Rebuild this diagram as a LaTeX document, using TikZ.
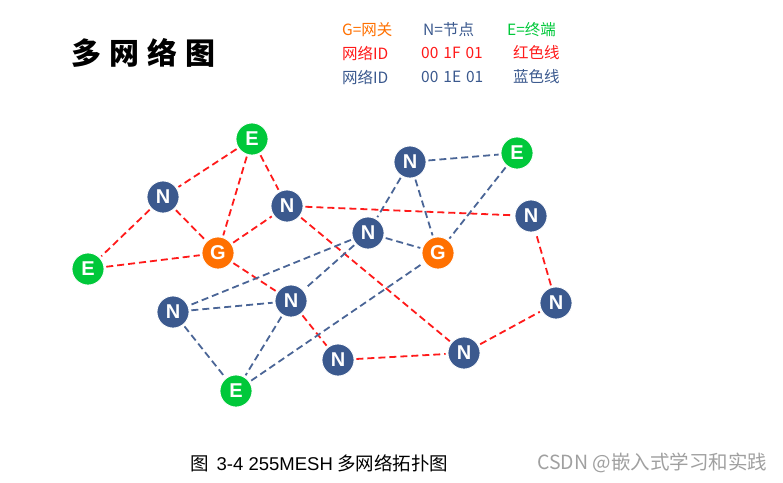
\documentclass[tikz,border=0pt]{standalone}
\usepackage{fontspec}
\newfontfamily\cjk{Noto Sans CJK SC}
\newfontfamily\lat{Liberation Sans}
\definecolor{nblue}{HTML}{3B598E}
\definecolor{lblue}{HTML}{4A6596}
\definecolor{gorange}{HTML}{FF7000}
\definecolor{egreen}{HTML}{00C83A}
\definecolor{lred}{HTML}{FF1A1A}
\definecolor{wm}{HTML}{A0A0A0}
\tikzset{
  nd/.style={circle, minimum size=32pt, inner sep=0pt, draw=white, line width=0.8pt,
             text=white, font=\lat\bfseries\fontsize{20}{20}\selectfont},
  nn/.style={nd, fill=nblue},
  gg/.style={nd, fill=gorange},
  ee/.style={nd, fill=egreen},
  rl/.style={draw=lred, line width=1.8pt, dash pattern=on 7pt off 4pt, shorten <=2pt, shorten >=2pt},
  bl/.style={draw=lblue, line width=1.8pt, dash pattern=on 7pt off 4pt, shorten <=2pt, shorten >=2pt},
  lg/.style={anchor=west, inner sep=0pt, font=\cjk\fontsize{15.5}{15.5}\selectfont}
}
\begin{document}
\begin{tikzpicture}[x=1pt,y=-1pt]
\useasboundingbox (0,0) rectangle (783,482);
% title
\node[anchor=west, inner sep=0pt, font=\cjk\bfseries\fontsize{30}{30}\selectfont] (title) at (71,53) {多\hspace{8pt}网\hspace{8pt}络\hspace{8pt}图};
% legend
\node[lg, text=gorange] (l1) at (342,30) {G=网关};
\node[lg, text=nblue] (l2) at (423,30) {N=节点};
\node[lg, text=egreen] (l3) at (507,30) {E=终端};
\node[lg, text=lred] (l4) at (342,53) {网络ID};
\node[lg, text=lred] (l5) at (421,53) {00\hspace{5pt}1F\hspace{5pt}01};
\node[lg, text=lred] (l6) at (513,53) {红色线};
\node[lg, text=nblue] (l7) at (342,77) {网络ID};
\node[lg, text=nblue] (l8) at (421,77) {00\hspace{5pt}1E\hspace{5pt}01};
\node[lg, text=nblue] (l9) at (513,77) {蓝色线};
% nodes
\node[ee] (E1) at (252,139) {E};
\node[nn] (N1) at (163,197) {N};
\node[nn] (N2) at (287,206) {N};
\node[gg] (G1) at (218,253) {G};
\node[ee] (E2) at (88,269) {E};
\node[nn] (N3) at (291,301) {N};
\node[nn] (N4) at (410,162) {N};
\node[ee] (E3) at (517,153) {E};
\node[nn] (N5) at (368,233) {N};
\node[gg] (G2) at (438,253) {G};
\node[nn] (N6) at (531,216) {N};
\node[nn] (N7) at (556,303) {N};
\node[nn] (N8) at (464,353) {N};
\node[nn] (N9) at (338,360) {N};
\node[nn] (N10) at (173,312) {N};
\node[ee] (E4) at (236,391) {E};
% red links
\path[rl] (E1) -- (N1);
\path[rl] (E1) -- (G1);
\path[rl] (E1) -- (N2);
\path[rl] (N1) -- (E2);
\path[rl] (N1) -- (G1);
\path[rl] (E2) -- (G1);
\path[rl] (G1) -- (N2);
\path[rl] (G1) -- (N3);
\path[rl] (N2) -- (N6);
\path[rl] (N2) -- (N8);
\path[rl] (N3) -- (N9);
\path[rl] (N9) -- (N8);
\path[rl] (N8) -- (N7);
\path[rl] (N7) -- (N6);
% blue links
\path[bl] (N4) -- (E3);
\path[bl] (N4) -- (N5);
\path[bl] (N4) -- (G2);
\path[bl] (E3) -- (G2);
\path[bl] (N5) -- (G2);
\path[bl] (N5) -- (N10);
\path[bl] (N5) -- (N3);
\path[bl] (N10) -- (N3);
\path[bl] (N10) -- (E4);
\path[bl] (N3) -- (E4);
\path[bl] (E4) -- (G2);
% caption
\node[anchor=west, inner sep=0pt, font=\cjk\fontsize{18.5}{18.5}\selectfont] (cap) at (190,463) {图\hspace{8pt}{\lat 3-4 255MESH} 多网络拓扑图};
\node[anchor=west, inner sep=0pt, text=wm, font=\cjk\fontsize{19.5}{19.5}\selectfont] (wmk) at (537,463) {CSDN @嵌入式学习和实践};
\end{tikzpicture}
\end{document}
